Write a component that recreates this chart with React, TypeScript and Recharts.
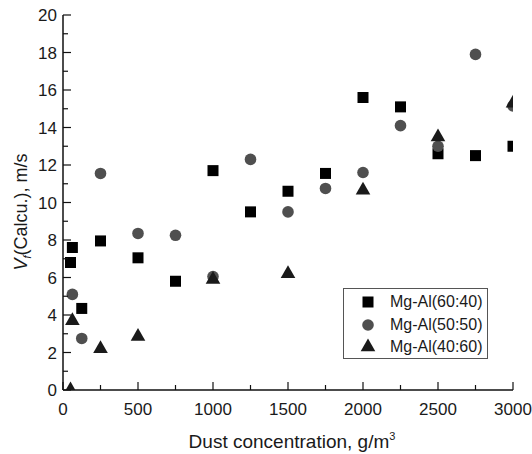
import { ScatterChart, Scatter, XAxis, YAxis, Legend } from 'recharts';

// Mg-Al(60:40)
const conc6040 = [50, 62.5, 125, 250, 500, 750, 1000, 1250, 1500, 1750, 2000, 2250, 2500, 2750, 3000];
const vf6040 = [6.8, 7.6, 4.35, 7.95, 7.05, 5.8, 11.7, 9.5, 10.6, 11.55, 15.6, 15.1, 12.6, 12.5, 13.0];
// Mg-Al(50:50)
const conc5050 = [62.5, 125, 250, 500, 750, 1000, 1250, 1500, 1750, 2000, 2250, 2500, 2750, 3000];
const vf5050 = [5.1, 2.75, 11.55, 8.35, 8.25, 6.05, 12.3, 9.5, 10.75, 11.6, 14.1, 13.0, 17.9, 15.15];
// Mg-Al(40:60)
const conc4060 = [50, 62.5, 250, 500, 1000, 1500, 2000, 2500, 3000];
const vf4060 = [0, 3.7, 2.2, 2.85, 5.9, 6.2, 10.65, 13.5, 15.3];

const xTicks = [0, 250, 500, 750, 1000, 1250, 1500, 1750, 2000, 2250, 2500, 2750, 3000];
const yTicks = [0, 1, 2, 3, 4, 5, 6, 7, 8, 9, 10, 11, 12, 13, 14, 15, 16, 17, 18, 19, 20];

const FONT = '"Liberation Sans", Arial, sans-serif';
const AXIS = '#111';

const toPoints = (xs: number[], ys: number[]) => xs.map((x, i) => ({ x, y: ys[i] }));

const series = [
  { name: 'Mg-Al(60:40)', data: toPoints(conc6040, vf6040), kind: 'square', color: '#000' },
  { name: 'Mg-Al(50:50)', data: toPoints(conc5050, vf5050), kind: 'circle', color: '#4f4f4f' },
  { name: 'Mg-Al(40:60)', data: toPoints(conc4060, vf4060), kind: 'triangle', color: '#1a1a1a' },
];

function Marker({ kind, cx, cy, color }: { kind: string; cx: number; cy: number; color: string }) {
  if (kind === 'square') return <rect x={cx - 5.5} y={cy - 5.5} width={11} height={11} fill={color} />;
  if (kind === 'circle') return <circle cx={cx} cy={cy} r={5.8} fill={color} />;
  return <polygon points={`${cx},${cy - 8.5} ${cx + 7.3},${cy + 4.3} ${cx - 7.3},${cy + 4.3}`} fill={color} />;
}

const isMajorX = (v: number) => v % 500 === 0;
const isMajorY = (v: number) => v % 2 === 0;

function BottomTick({ x, y, payload }: any) {
  const major = isMajorX(payload.value);
  return (
    <g>
      <line x1={x} x2={x} y1={y} y2={y - (major ? 8 : 5)} stroke={AXIS} strokeWidth={1.2} />
      {major && (
        <text x={x} y={y + 25} textAnchor="middle" fontSize={17} fontFamily={FONT} fill="#1a1a1a">
          {payload.value}
        </text>
      )}
    </g>
  );
}

function TopTick({ x, y, payload }: any) {
  const major = isMajorX(payload.value);
  return <line x1={x} x2={x} y1={y} y2={y + (major ? 8 : 5)} stroke={AXIS} strokeWidth={1.2} />;
}

function LeftTick({ x, y, payload }: any) {
  const major = isMajorY(payload.value);
  return (
    <g>
      <line x1={x} x2={x + (major ? 8 : 5)} y1={y} y2={y} stroke={AXIS} strokeWidth={1.2} />
      {major && (
        <text x={x - 6} y={y + 6} textAnchor="end" fontSize={17} fontFamily={FONT} fill="#1a1a1a">
          {payload.value}
        </text>
      )}
    </g>
  );
}

function RightTick({ x, y, payload }: any) {
  const major = isMajorY(payload.value);
  return <line x1={x} x2={x - (major ? 8 : 5)} y1={y} y2={y} stroke={AXIS} strokeWidth={1.2} />;
}

function LegendBox() {
  return (
    <div
      style={{
        width: 145,
        height: 71,
        boxSizing: 'border-box',
        border: '1px solid #555',
        background: '#fff',
        fontFamily: FONT,
        fontSize: 16,
        color: '#1a1a1a',
        paddingTop: 2,
      }}
    >
      {series.map((s) => (
        <div key={s.name} style={{ display: 'flex', alignItems: 'center', height: 22.5 }}>
          <svg width={46} height={22} style={{ flex: 'none' }}>
            <Marker kind={s.kind} cx={24} cy={11} color={s.color} />
          </svg>
          <span>{s.name}</span>
        </div>
      ))}
    </div>
  );
}

export default function App() {
  return (
    <div style={{ width: 532, height: 454 }}>
      <style>{'body { margin: 0; }'}</style>
      <ScatterChart width={532} height={454} margin={{ top: 15, right: 19, bottom: 0, left: 0 }}>
        <XAxis
          xAxisId="b"
          dataKey="x"
          type="number"
          domain={[0, 3000]}
          ticks={xTicks}
          allowDataOverflow
          interval={0}
          height={64}
          tickSize={0}
          tickMargin={0}
          tickLine={false}
          axisLine={{ stroke: AXIS, strokeWidth: 1.5 }}
          tick={<BottomTick />}
          label={{
            content: () => (
              <text x={292} y={448} textAnchor="middle" fontSize={19} fontFamily={FONT} fill="#1a1a1a">
                Dust concentration, g/m
                <tspan dy={-8} fontSize={11}>3</tspan>
              </text>
            ),
          }}
        />
        <XAxis
          xAxisId="t"
          orientation="top"
          type="number"
          domain={[0, 3000]}
          ticks={xTicks}
          interval={0}
          height={0}
          tickSize={0}
          tickMargin={0}
          tickLine={false}
          axisLine={{ stroke: AXIS, strokeWidth: 1.5 }}
          tick={<TopTick />}
        />
        <YAxis
          yAxisId="l"
          dataKey="y"
          type="number"
          domain={[0, 20]}
          ticks={yTicks}
          allowDataOverflow
          interval={0}
          width={63}
          tickSize={0}
          tickMargin={0}
          tickLine={false}
          axisLine={{ stroke: AXIS, strokeWidth: 1.5 }}
          tick={<LeftTick />}
          label={{
            content: () => (
              <text transform="translate(27,212) rotate(-90)" textAnchor="middle" fontSize={18} fontFamily={FONT} fill="#1a1a1a">
                <tspan fontStyle="italic">V</tspan>
                <tspan fontStyle="italic" fontSize={11} dy={4}>f</tspan>
                <tspan dy={-4}>(Calcu.), m/s</tspan>
              </text>
            ),
          }}
        />
        <YAxis
          yAxisId="r"
          orientation="right"
          type="number"
          domain={[0, 20]}
          ticks={yTicks}
          interval={0}
          width={0}
          tickSize={0}
          tickMargin={0}
          tickLine={false}
          axisLine={{ stroke: AXIS, strokeWidth: 1.5 }}
          tick={<RightTick />}
        />
        <Legend
          layout="vertical"
          align="center"
          verticalAlign="middle"
          wrapperStyle={{ left: 343, top: 288, width: 145 }}
          content={<LegendBox />}
        />
        {series.map((s) => (
          <Scatter
            key={s.name}
            name={s.name}
            data={s.data}
            xAxisId="b"
            yAxisId="l"
            fill={s.color}
            isAnimationActive={false}
            shape={(p: any) => <Marker kind={s.kind} cx={p.cx} cy={p.cy} color={s.color} />}
          />
        ))}
      </ScatterChart>
    </div>
  );
}
